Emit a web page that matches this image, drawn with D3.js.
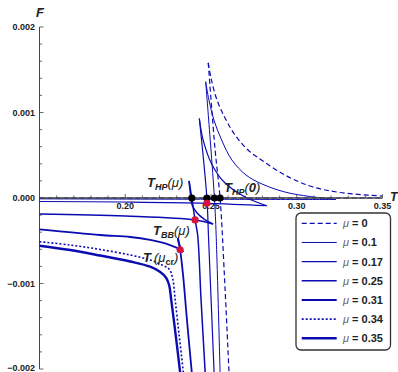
<!DOCTYPE html>
<html><head><meta charset="utf-8">
<script src="https://cdn.jsdelivr.net/npm/d3@7"></script>
<style>body{margin:0;background:#fff}svg{display:block}</style>
</head><body><div id="chart"></div>
<script>
// ---- data (T, F) ----
const T_TICKS = [0.20, 0.25, 0.30, 0.35];
const T_TICK_LABELS = ["0.20", "0.25", "0.30", "0.35"];
const F_TICKS = [0.002, 0.001, 0.000, -0.001, -0.002];
const F_TICK_LABELS = ["0.002", "0.001", "0.000", "\u22120.001", "\u22120.002"];
const MU_LABELS = ["0", "0.1", "0.17", "0.25", "0.31", "0.34", "0.35"];

// mu = 0
const mu0_A = [[0.15,0],[0.35,0]];
const mu0_B = [[0.2484,0.00158],[0.2500,0.001404],[0.2535,0.001146],[0.2582,0.000936],[0.2640,0.000737],[0.2716,0.000561],[0.2803,0.000433],[0.2931,0.000269],[0.3077,0.000140],[0.3252,0.000064],[0.3497,0.000023]];
const mu0_C = [[0.2484,0.00158],[0.2524,0.00056],[0.2553,0],[0.2578,-0.0009],[0.2605,-0.00204]];
// mu = 0.1
const mu1_A = [[0.15,-0.000010],[0.25,-0.000015],[0.3229,-0.0000175]];
const mu1_B = [[0.2469,0.00136],[0.2488,0.001146],[0.2517,0.000912],[0.2562,0.000678],[0.2622,0.000444],[0.2704,0.000269],[0.2797,0.000164],[0.2931,0.000070],[0.3077,0.0000175],[0.3229,-0.0000175]];
const mu1_C = [[0.2469,0.00136],[0.2520,0],[0.2530,-0.00043],[0.2553,-0.00204]];
// mu = 0.17
const mu2_A = [[0.15,-0.000041],[0.1971,-0.000047],[0.2476,-0.000062],[0.2825,-0.000090]];
const mu2_B = [[0.2432,0.00093],[0.2454,0.00068],[0.2506,0.00039],[0.2582,0.000175],[0.2699,0.000012],[0.2825,-0.000090]];
const mu2_C = [[0.2432,0.00093],[0.2476,0],[0.2485,-0.00043],[0.2518,-0.00204]];
// mu = 0.25
const mu3_A = [[0.15,-0.000187],[0.2,-0.000211],[0.2407,-0.000257],[0.2512,-0.000304]];
const mu3_B = [[0.2372,0.000199],[0.2381,0.000035],[0.2390,-0.000082],[0.2419,-0.000175],[0.2460,-0.000246],[0.2512,-0.000304]];
const mu3_C = [[0.2372,0.000199],[0.2388,0],[0.2407,-0.000257],[0.2422,-0.00043],[0.2442,-0.00119],[0.2466,-0.00204]];
// mu = 0.31
const mu4_A = [[0.15,-0.000368],[0.1854,-0.000433],[0.2029,-0.000456],[0.2145,-0.000491],[0.2261,-0.00055],[0.2320,-0.000602],[0.2337,-0.000632]];
const mu4_B = [[0.2307,-0.000468],[0.2314,-0.000538],[0.2337,-0.000632]];
const mu4_C = [[0.2307,-0.000468],[0.2320,-0.000608],[0.2337,-0.0009],[0.2360,-0.00143],[0.2388,-0.00204]];
// mu = 0.34
const mu5 = [[0.15,-0.000511],[0.1679,-0.00055],[0.1854,-0.000602],[0.2029,-0.000667],[0.2145,-0.000725],[0.2215,-0.000784],[0.2256,-0.00083],[0.2276,-0.000936],[0.2291,-0.00119],[0.2314,-0.0016],[0.2339,-0.00204]];
// mu = 0.35
const mu6 = [[0.15,-0.000558],[0.1679,-0.000608],[0.1854,-0.000673],[0.2029,-0.000743],[0.2145,-0.000804],[0.2204,-0.000866],[0.2239,-0.000936],[0.2256,-0.00102],[0.2268,-0.00119],[0.2294,-0.0016],[0.2320,-0.00204]];

const HP_T = [0.2388, 0.2476, 0.2520, 0.2553];
const BB_POINTS = [[0.2476,-0.000062],[0.2407,-0.000257],[0.2320,-0.000605]];

// ---- drawing ----
const W = 398, H = 372;
const BLUE = "#0b0bb2";
const FONT = "'Liberation Sans', Arial, sans-serif";
const svg = d3.select("#chart").append("svg").attr("width", W).attr("height", H)
  .style("font-family", FONT);

const x = d3.scaleLinear().domain([0.15, 0.35]).range([39.5, 382.5]);
const y = d3.scaleLinear().domain([-0.002, 0.002]).range([369, 27]);

const series = [
  {branches:[mu0_A, mu0_B, mu0_C], w:1.2, dash:"5,3"},
  {branches:[mu1_A, mu1_B, mu1_C], w:1.0, dash:null},
  {branches:[mu2_A, mu2_B, mu2_C], w:1.2, dash:null},
  {branches:[mu3_A, mu3_B, mu3_C], w:1.5, dash:null},
  {branches:[mu4_A, mu4_B, mu4_C], w:1.8, dash:null},
  {branches:[mu5], w:1.6, dash:"2,2"},
  {branches:[mu6], w:2.4, dash:null}
];

const axisColor = "#444";
// y axis
svg.append("line").attr("x1", x(0.15)).attr("x2", x(0.15)).attr("y1", y(0.002)).attr("y2", y(-0.002))
  .attr("stroke", axisColor).attr("stroke-width", 1);
const yMinor = d3.range(-20, 21).map(i => i * 0.0002);
svg.selectAll(".ymin").data(yMinor).join("line")
  .attr("x1", x(0.15)).attr("x2", d => x(0.15) + (Math.abs(Math.round(d*1e4)) % 10 === 0 ? 4 : 2.5))
  .attr("y1", d => y(d)).attr("y2", d => y(d)).attr("stroke", axisColor).attr("stroke-width", 0.8);
svg.selectAll(".ylab").data(F_TICKS).join("text")
  .attr("x", 35).attr("y", d => Math.min(y(d) + 3, 371))
  .attr("text-anchor", "end")
  .attr("font-size", 9).attr("font-weight", "bold").attr("fill", "#222")
  .text((d,i) => F_TICK_LABELS[i]);
// x axis ticks
const xMinor = d3.range(15, 36).map(i => i / 100);
svg.selectAll(".xmin").data(xMinor).join("line")
  .attr("x1", d => x(d)).attr("x2", d => x(d))
  .attr("y1", y(0)).attr("y2", d => y(0) - (Math.round(d*100) % 5 === 0 ? 4 : 2.5))
  .attr("stroke", axisColor).attr("stroke-width", 0.8);
svg.selectAll(".xlab").data(T_TICKS).join("text")
  .attr("x", d => x(d)).attr("y", y(0) + 11).attr("text-anchor", "middle")
  .attr("font-size", 9).attr("font-weight", "bold").attr("fill", "#222")
  .text((d,i) => T_TICK_LABELS[i]);

// curves
const line = d3.line().x(d => x(d[0])).y(d => y(d[1])).curve(d3.curveCatmullRom.alpha(0.5));
series.forEach(s => {
  s.branches.forEach(b => {
    svg.append("path").attr("d", line(b)).attr("fill", "none")
      .attr("stroke", BLUE).attr("stroke-width", s.w)
      .attr("stroke-dasharray", s.dash);
  });
});

// x axis line
svg.append("line").attr("x1", x(0.15)).attr("x2", x(0.35)).attr("y1", y(0)).attr("y2", y(0))
  .attr("stroke", axisColor).attr("stroke-width", 1.6);

// axis titles
svg.append("text").attr("x", 36).attr("y", 17).attr("font-size", 13).attr("font-weight", "bold")
  .attr("font-style", "italic").attr("fill", "#222").text("F");
svg.append("text").attr("x", 390).attr("y", y(0) + 3).attr("font-size", 12.5).attr("font-weight", "bold")
  .attr("font-style", "italic").attr("fill", "#222").text("T");

// points
svg.selectAll(".hp").data(HP_T).join("circle")
  .attr("cx", d => x(d)).attr("cy", y(0)).attr("r", 3.6).attr("fill", "#000");
svg.selectAll(".bb").data(BB_POINTS).join("circle")
  .attr("cx", d => x(d[0])).attr("cy", d => y(d[1])).attr("r", 3.6).attr("fill", "#d8123e");

// annotations
function label(px, py, main, sub) {
  const t = svg.append("text").attr("x", px).attr("y", py).attr("font-size", 13).attr("fill", "#222");
  t.append("tspan").attr("font-weight", "bold").attr("font-style", "italic").text(main);
  t.append("tspan").attr("font-weight", "bold").attr("font-style", "italic")
    .attr("font-size", 9).attr("dy", 3).text(sub);
  return t;
}
{
  const t = label(147, 187, "T", "HP");
  t.append("tspan").attr("dy", -3).attr("font-style", "italic").text("(\u03bc)");
}
{
  const t = label(224, 192, "T", "HP");
  t.append("tspan").attr("dy", -3).attr("font-style", "italic").text("(");
  t.append("tspan").attr("font-style", "italic").attr("font-weight", "bold").text("0");
  t.append("tspan").attr("font-style", "italic").text(")");
}
{
  const t = label(153, 235, "T", "BB");
  t.append("tspan").attr("dy", -3).attr("font-style", "italic").text("(\u03bc)");
}
{
  const t = svg.append("text").attr("x", 143).attr("y", 262).attr("font-size", 13).attr("fill", "#222");
  t.append("tspan").attr("font-weight", "bold").attr("font-style", "italic").text("T");
  t.append("tspan").attr("font-style", "italic").attr("dx", 3).text("(\u03bc");
  t.append("tspan").attr("font-size", 9).attr("font-weight", "bold").attr("dy", 3).text("cr");
  t.append("tspan").attr("font-style", "italic").attr("dy", -3).text(")");
}

// legend
const lg = svg.append("g");
lg.append("rect").attr("x", 296).attr("y", 213).attr("width", 94.5).attr("height", 137).attr("rx", 5)
  .attr("fill", "#fff").attr("stroke", "#333").attr("stroke-width", 1.3);
MU_LABELS.forEach((m, i) => {
  const ry = 223.3 + i * 19.17;
  const s = series[i];
  lg.append("line").attr("x1", 301.7).attr("x2", 336.7).attr("y1", ry).attr("y2", ry)
    .attr("stroke", BLUE).attr("stroke-width", s.w).attr("stroke-dasharray", s.dash);
  const t = lg.append("text").attr("x", 343).attr("y", ry + 4).attr("font-size", 11);
  t.append("tspan").attr("font-style", "italic").attr("fill", "#666").text("\u03bc");
  t.append("tspan").attr("font-weight", "bold").attr("fill", "#222").text(" = " + m);
});
</script>
</body></html>
